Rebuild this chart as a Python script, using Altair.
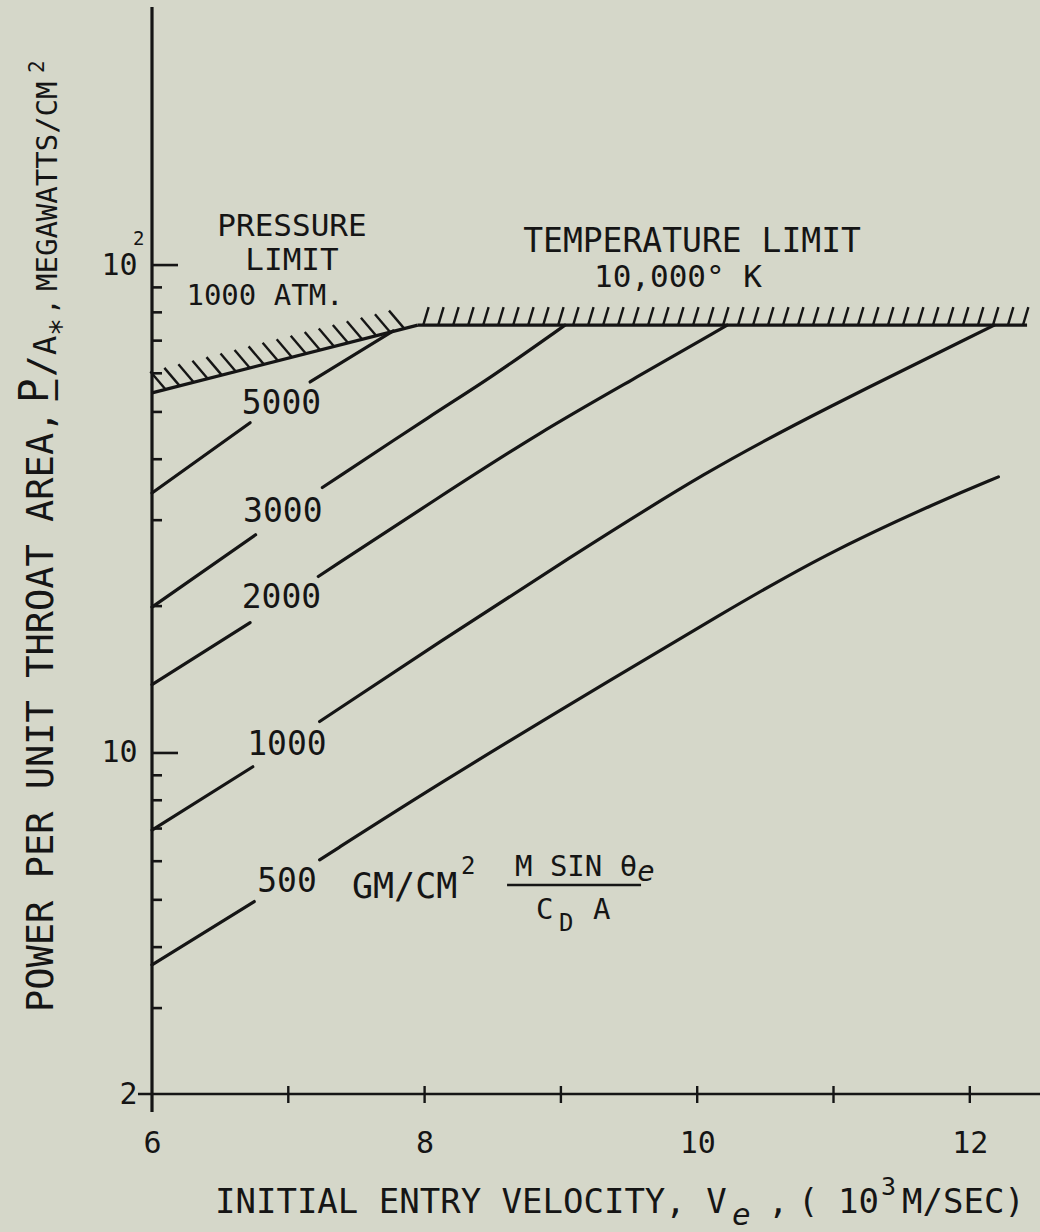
import altair as alt
import pandas as pd

# Power per unit throat area against initial entry velocity, one curve per
# ballistic parameter M sin(theta_e) / (C_D A) in gm/cm^2.  Each curve is
# broken where its value is lettered, so it is kept as a low and a high run.
curve_names = ["5000", "3000", "2000", "1000", "500"]

v_5000_lo = [6.00, 6.72]
p_5000_lo = [34.1, 47.5]
v_5000_hi = [7.16, 7.77]
p_5000_hi = [57.6, 73.3]

v_3000_lo = [6.00, 6.76]
p_3000_lo = [19.9, 28.0]
v_3000_hi = [7.25, 8.11, 8.46, 9.03]
p_3000_hi = [35.0, 50.5, 58.1, 75.3]

v_2000_lo = [6.00, 6.72]
p_2000_lo = [13.8, 18.5]
v_2000_hi = [7.22, 8.11, 8.85, 9.52, 10.22]
p_2000_hi = [23.0, 33.5, 45.5, 58.1, 75.3]

v_1000_lo = [6.00, 6.74]
p_1000_lo = [6.95, 9.37]
v_1000_hi = [7.23, 8.11, 9.04, 10.08, 10.92, 12.18]
p_1000_hi = [11.6, 16.9, 24.9, 38.0, 50.5, 75.3]

v_500_lo = [6.00, 6.75]
p_500_lo = [3.68, 4.96]
v_500_hi = [7.23, 8.11, 9.11, 10.22, 10.93, 11.80, 12.21]
p_500_hi = [6.04, 8.67, 12.8, 19.6, 25.5, 33.0, 36.8]

# Limits: stagnation pressure 1000 atm and temperature 10,000 K
pressure_v = [6.00, 7.95]
pressure_p = [54.7, 75.3]
temperature_v = [7.95, 12.42]
temperature_p = [75.3, 75.3]

# Where each curve's value is lettered (centre of the text)
label_v = [6.95, 6.96, 6.95, 6.99, 6.99]
label_p = [51.9, 31.2, 20.8, 10.4, 5.44]

# Axis ticks
x_label_values = [6, 8, 10, 12]
x_tick_values = [7, 8, 9, 10, 11, 12]
y_label_values = [2, 10, 100]
y_major_ticks = [10, 100]
y_minor_ticks = [3, 4, 5, 6, 7, 8, 9, 20, 30, 40, 50, 60, 70, 80, 90]

INK = "#151515"
PAPER = "#d5d7c9"
MONO = "DejaVu Sans Mono"
SANS = "DejaVu Sans"
W, H = 888, 1087

xs = alt.Scale(domain=[6, 12.515], nice=False, zero=False)
ys = alt.Scale(type="log", domain=[2, 338], nice=False)


def X(field="v", **kw):
    return alt.X(f"{field}:Q", scale=xs, **kw)


def Y(field="p", **kw):
    return alt.Y(f"{field}:Q", scale=ys, **kw)


runs = [
    ("5000", v_5000_lo, p_5000_lo, v_5000_hi, p_5000_hi),
    ("3000", v_3000_lo, p_3000_lo, v_3000_hi, p_3000_hi),
    ("2000", v_2000_lo, p_2000_lo, v_2000_hi, p_2000_hi),
    ("1000", v_1000_lo, p_1000_lo, v_1000_hi, p_1000_hi),
    ("500", v_500_lo, p_500_lo, v_500_hi, p_500_hi),
]
rows = []
for name, vlo, plo, vhi, phi in runs:
    for v, p in zip(vlo, plo):
        rows.append({"v": v, "p": p, "run": name + "-lo"})
    for v, p in zip(vhi, phi):
        rows.append({"v": v, "p": p, "run": name + "-hi"})
curves_df = pd.DataFrame(rows)

limit_rows = []
for v, p in zip(pressure_v, pressure_p):
    limit_rows.append({"v": v, "p": p, "run": "pressure"})
for v, p in zip(temperature_v, temperature_p):
    limit_rows.append({"v": v, "p": p, "run": "temperature"})
limits_df = pd.DataFrame(limit_rows)

curves = alt.Chart(curves_df).mark_line(
    color=INK, strokeWidth=3.2, interpolate="basis", strokeCap="round"
).encode(
    x=X(axis=alt.Axis(values=x_label_values, format="d", title=None, ticks=False,
                      domain=False, grid=False, labelFontSize=30, labelPadding=34,
                      labelFlush=False)),
    y=Y(axis=alt.Axis(values=y_label_values, title=None, ticks=False, domain=False,
                      grid=False, labelFontSize=30, labelPadding=15, labelFlush=False,
                      labelExpr="datum.value == 100 ? '10' : datum.label")),
    detail="run:N",
)

limits = alt.Chart(limits_df).mark_line(
    color=INK, strokeWidth=3.2, strokeJoin="round"
).encode(x=X(), y=Y(), detail="run:N")

# Hatching on the outside of the two limit lines
lp0, lp1 = pressure_p
lv0, lv1 = pressure_v
temp_hatch = alt.Chart(alt.sequence(7.99, 12.42, 0.11, as_="v")).transform_calculate(
    p=f"{temperature_p[0]}"
).mark_point(shape="M0,0L0.3,-1", size=1296, filled=False, strokeWidth=2.4,
             color=INK, opacity=1).encode(x=X(), y=Y())

press_hatch = alt.Chart(alt.sequence(6.1, 7.93, 0.103, as_="v")).transform_calculate(
    p=f"exp(log({lp0}) + (log({lp1}) - log({lp0})) * (datum.v - {lv0}) / ({lv1} - {lv0}))"
).mark_point(shape="M0,0L-0.85,-1", size=1296, filled=False, strokeWidth=2.4,
             color=INK, opacity=1).encode(x=X(), y=Y())

# Curve values
labels = alt.Chart(pd.DataFrame({"v": label_v, "p": label_p, "t": curve_names})).mark_text(
    font=MONO, fontSize=33, color=INK, align="center", baseline="middle"
).encode(x=X(), y=Y(), text="t:N")


def note(text, v, p, size, align="center", **kw):
    return alt.Chart(pd.DataFrame({"v": [v], "p": [p], "t": [text]})).mark_text(
        font=MONO, fontSize=size, color=INK, align=align, baseline="middle", **kw
    ).encode(x=X(), y=Y(), text="t:N")


notes = [
    note("PRESSURE", 7.027, 119.6, 31),
    note("LIMIT", 7.027, 101.9, 31),
    note("1000 ATM.", 6.829, 86.6, 29),
    note("TEMPERATURE LIMIT", 9.962, 111.4, 33),
    note("10,000° K", 9.859, 94.0, 31),
    note("GM/CM", 7.467, 5.31, 35, align="left"),
    note("2", 8.267, 5.84, 24, align="left"),
    note("M SIN θ", 8.663, 5.84, 29, align="left"),
    note("e", 9.56, 5.70, 29, align="left", fontStyle="italic"),
    note("C", 8.817, 4.77, 29, align="left"),
    note("D", 8.986, 4.46, 24, align="left"),
    note("A", 9.235, 4.77, 29, align="left"),
]

# fraction bar of M sin(theta_e) / (C_D A)
frac_bar = alt.Chart(pd.DataFrame({"v": [8.605], "v2": [9.588], "p": [5.36]})).mark_rule(
    color=INK, strokeWidth=2.5
).encode(x=X(), x2="v2:Q", y=Y())

# superscript of 10^2 on the y axis
sup = alt.Chart(pd.DataFrame({"p": [113.0]})).mark_text(
    font=MONO, fontSize=19, color=INK, align="left", baseline="middle"
).encode(x=alt.value(-19), y=Y(), text=alt.value("2"))

# axis lines and ticks
y_line = alt.Chart(pd.DataFrame({"a": [0]})).mark_rule(color=INK, strokeWidth=3.2).encode(
    x=alt.value(0), y=alt.value(0), y2=alt.value(H + 18))
x_line = alt.Chart(pd.DataFrame({"a": [0]})).mark_rule(color=INK, strokeWidth=2.6).encode(
    x=alt.value(-14), x2=alt.value(W), y=alt.value(H))
y_major = alt.Chart(pd.DataFrame({"p": y_major_ticks})).mark_rule(color=INK, strokeWidth=2.6).encode(
    y=Y(), x=alt.value(0), x2=alt.value(26))
y_minor = alt.Chart(pd.DataFrame({"p": y_minor_ticks})).mark_rule(color=INK, strokeWidth=2.6).encode(
    y=Y(), x=alt.value(0), x2=alt.value(10))
x_ticks = alt.Chart(pd.DataFrame({"v": x_tick_values})).mark_rule(color=INK, strokeWidth=2.4).encode(
    x=X(), y=alt.value(H - 8), y2=alt.value(H + 9))


def title_piece(text, x, y, size, angle=0, style="normal", font=MONO):
    return alt.Chart(pd.DataFrame({"a": [0]})).mark_text(
        text=text, font=font, fontSize=size, color=INK, align="left",
        baseline="middle", angle=angle, fontStyle=style
    ).encode(x=alt.value(x), y=alt.value(y))


# x-axis title: INITIAL ENTRY VELOCITY, V_e , ( 10^3 M/SEC)
x_title = [
    title_piece("INITIAL ENTRY VELOCITY, V", 63, 1196, 34),
    title_piece("e", 580, 1209, 31, style="italic"),
    title_piece(",", 616, 1196, 34),
    title_piece("(", 646, 1196, 34),
    title_piece("10", 686, 1196, 34),
    title_piece("3", 729, 1180, 25),
    title_piece("M/SEC)", 750, 1196, 34),
]

# y-axis title, read from bottom to top
y_title = [
    title_piece("POWER PER UNIT THROAT AREA,", -110, 1005, 37, angle=270),
    title_piece("P\u0332", -116, 396, 40, angle=270, font=SANS),
    title_piece("/", -110, 370, 36, angle=270),
    title_piece("A", -106, 348, 32, angle=270),
    title_piece("*", -90, 329, 30, angle=270),
    title_piece(",", -104, 308, 28, angle=270),
    title_piece("MEGAWATTS/CM", -104, 284, 29, angle=270),
    title_piece("2", -114, 66, 21, angle=270),
]

chart = alt.layer(
    curves, limits, temp_hatch, press_hatch, labels, *notes, frac_bar, sup,
    y_line, x_line, y_major, y_minor, x_ticks, *x_title, *y_title,
).properties(
    width=W, height=H, background=PAPER,
    padding={"left": 152, "top": 7, "right": 0, "bottom": 138},
    autosize=alt.AutoSizeParams(type="none"),
).configure_view(stroke=None).configure_axis(
    labelFont=MONO, labelColor=INK
)

chart.save("out.html", embed_options={"renderer": "svg", "actions": False})
